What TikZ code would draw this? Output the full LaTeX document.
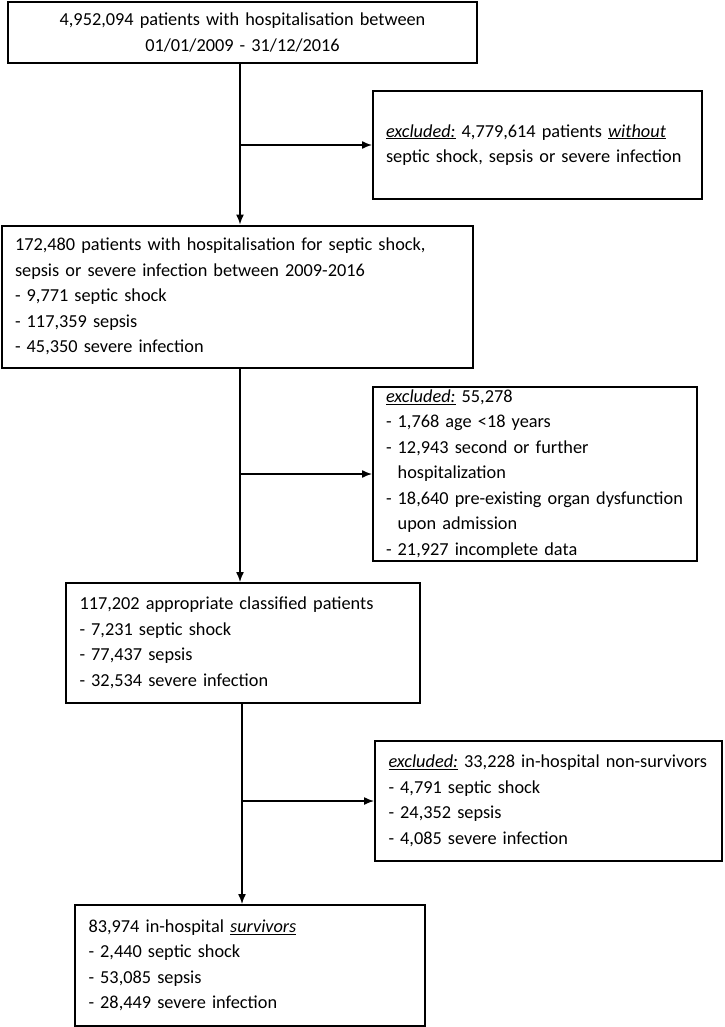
\documentclass[tikz,border=0pt]{standalone}
\usepackage{fontspec}
\setmainfont{Carlito}
\usetikzlibrary{arrows.meta}
\newcommand{\exc}{\underline{\textit{excluded:}}}
\newcommand{\hang}{\phantom{- }}
\begin{document}
\begin{tikzpicture}[x=1pt,y=-1pt,
  box/.style={draw,line width=2pt,rectangle,inner xsep=13pt,inner ysep=0pt,
    font=\fontsize{18.3}{25.5}\selectfont,align=left},
  arr/.style={line width=1.4pt,-{Latex[length=10pt,width=8pt]}}]
\useasboundingbox[fill=white] (0,0) rectangle (724,1027);
\node[box,align=center,minimum width=469pt,minimum height=61pt,text width=443pt] (b1) at (242.5,32.5)
  {4,952,094 patients with hospitalisation between\\01/01/2009 - 31/12/2016};
\node[box,minimum width=329pt,minimum height=108pt,text width=303pt] (e1) at (537.5,145)
  {\exc{} 4,779,614 patients \underline{\textit{without}}\\septic shock, sepsis or severe infection};
\node[box,minimum width=471pt,minimum height=142pt,text width=445pt] (b2) at (237.5,296.5)
  {172,480 patients with hospitalisation for septic shock,\\sepsis or severe infection between 2009-2016\\- 9,771 septic shock\\- 117,359 sepsis\\- 45,350 severe infection};
\node[box,minimum width=324pt,minimum height=174pt,text width=298pt] (e2) at (535,474)
  {\exc{} 55,278\\- 1,768 age <18 years\\- 12,943 second or further\\\hang hospitalization\\- 18,640 pre-existing organ dysfunction\\\hang upon admission\\- 21,927 incomplete data};
\node[box,minimum width=354pt,minimum height=120pt,text width=327pt,inner xsep=13.5pt] (b3) at (243,643)
  {117,202 appropriate classified patients\\- 7,231 septic shock\\- 77,437 sepsis\\- 32,534 severe infection};
\node[box,minimum width=347pt,minimum height=120pt,text width=320pt,inner xsep=13.5pt] (e3) at (548.5,801)
  {\exc{} 33,228 in-hospital non-survivors\\- 4,791 septic shock\\- 24,352 sepsis\\- 4,085 severe infection};
\node[box,minimum width=350pt,minimum height=121pt,text width=323pt,inner xsep=13.5pt] (b4) at (250,965.5)
  {83,974 in-hospital \underline{\textit{survivors}}\\- 2,440 septic shock\\- 53,085 sepsis\\- 28,449 severe infection};
\coordinate (c1) at (240,0);
\coordinate (c3) at (242,0);
\draw[arr] (b1.south -| c1) -- (b2.north -| c1);
\draw[arr] (c1 |- e1.west) -- (e1.west);
\draw[arr] (b2.south -| c1) -- (b3.north -| c1);
\draw[arr] (c1 |- e2.west) -- (e2.west);
\draw[arr] (b3.south -| c3) -- (b4.north -| c3);
\draw[arr] (c3 |- e3.west) -- (e3.west);
\end{tikzpicture}
\end{document}
